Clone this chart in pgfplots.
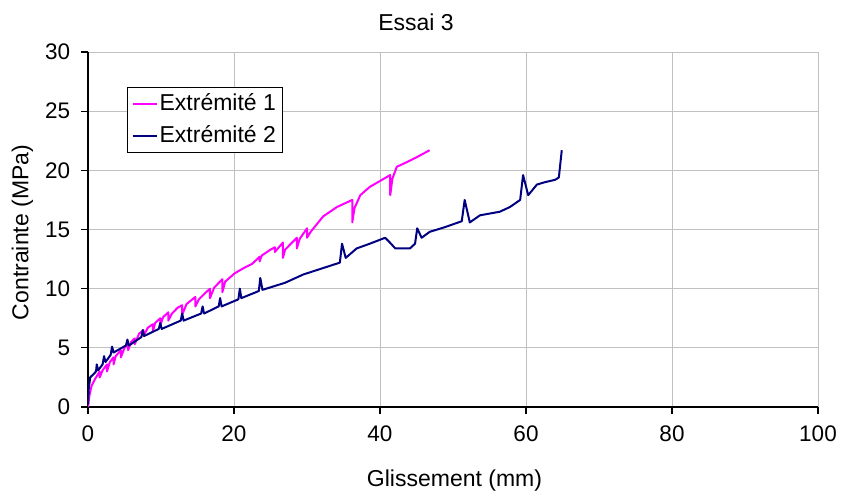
\documentclass[border=0pt]{standalone}
\usepackage{fontspec}
\setmainfont{Liberation Sans}
\usepackage{pgfplots}
\pgfplotsset{compat=1.18}
\definecolor{magentaL}{RGB}{255,0,255}
\definecolor{navyL}{RGB}{0,0,128}
\definecolor{gridc}{RGB}{192,192,192}
\begin{document}
\fontsize{23bp}{27bp}\selectfont
\begin{tikzpicture}
\begin{axis}[
  width=730bp, height=355bp, scale only axis,
  xmin=0, xmax=100, ymin=0, ymax=30,
  xtick={0,20,...,100}, ytick={0,5,...,30},
  axis lines*=left,
  tick align=outside,
  major tick length=7bp,
  grid=major,
  major grid style={gridc, line width=0.8bp},
  axis line style={black, line width=1.2bp},
  tick style={black, line width=1.2bp},
  /pgf/number format/assume math mode=true,
  ticklabel style={font=\fontsize{22.5bp}{26bp}\selectfont},
  xticklabel style={yshift=-4bp},
  yticklabel style={xshift=-3bp},
  legend style={at={(0.0534,0.9014)}, anchor=north west, draw=black, line width=0.9bp,
     font=\fontsize{23bp}{27bp}\selectfont, inner xsep=4bp, inner ysep=4bp, row sep=8bp,
     nodes={inner sep=2bp},
     /tikz/every even column/.append style={column sep=6bp}},
  legend cell align=left,
  legend image code/.code={\draw[#1, line width=2.2bp] (0bp,0bp) -- (24bp,0bp);},
  every axis plot/.append style={line width=2bp, line join=round},
]
\addplot[magentaL, no markers] coordinates {
(0,0)(0.2,1.0)(0.5,1.8)(1.0,2.4)(1.6,3.0)(1.6,2.5)
(2.0,3.1)(2.6,3.6)(2.6,3.0)
(3.0,3.8)(3.5,4.2)(3.5,3.6)
(3.8,4.3)(4.5,4.8)(4.5,4.2)
(5.0,5.0)(5.5,5.3)(5.5,4.8)
(5.9,5.5)(6.4,5.8)(6.4,5.3)
(7.0,6.2)(7.6,6.5)(7.6,6.0)
(8.2,6.7)(8.9,7.0)(8.9,6.4)
(9.2,7.1)(9.9,7.5)(9.9,6.9)
(10.3,7.6)(11.0,8.0)(11.0,7.3)
(11.5,7.9)(12.3,8.4)(12.9,8.6)(12.9,7.8)
(13.5,8.7)(14.7,9.3)(14.7,8.5)
(15.2,9.1)(16.0,9.6)(16.7,10.0)(16.7,9.2)
(17.3,10.1)(18.4,10.8)(18.4,9.7)
(18.8,10.6)(20.1,11.3)(21.5,11.8)(22.5,12.1)(23.5,12.7)(23.5,12.3)(23.8,12.8)(25.0,13.3)(25.6,13.5)(25.6,13.1)(26.7,13.9)(26.7,12.6)
(27.0,13.3)(28.6,14.3)(28.6,13.4)(29.0,14.2)(30.0,15.1)(30.0,14.3)(30.5,14.8)
(32.2,16.1)(34.1,16.9)(36.2,17.5)(36.2,15.6)(36.5,16.8)(37.3,17.9)(38.6,18.6)
(40.0,19.1)(41.4,19.6)(41.4,17.9)(41.7,19.3)(42.3,20.3)(43.7,20.7)(45.0,21.1)(46.8,21.7)
};
\addlegendentry{Extrémité 1}
\addplot[navyL, no markers] coordinates {
(0,0.2)(0.1,1.5)(0.3,2.5)(0.8,2.8)(1.1,3.0)(1.2,3.6)(1.4,3.1)(2.0,3.6)(2.2,4.3)(2.4,3.8)
(3.1,4.4)(3.3,5.1)(3.5,4.6)(5.2,5.2)(5.4,5.7)(5.6,5.2)(7.3,5.9)(7.5,6.5)(7.7,6.0)
(9.7,6.6)(9.9,7.1)(10.1,6.6)(12.7,7.3)(12.9,7.9)(13.1,7.3)(15.5,7.9)(15.7,8.5)(15.9,7.9)
(17.9,8.5)(18.1,9.2)(18.3,8.5)(20.6,9.1)(20.8,10.0)(21.0,9.2)(23.4,9.8)(23.6,10.9)(23.9,9.9)
(27.0,10.5)(29.5,11.2)(32.0,11.7)(34.5,12.2)(34.8,13.8)(35.3,12.6)(36.8,13.4)(38.6,13.8)
(40.7,14.3)(41.2,14.0)(42.1,13.4)(44.1,13.4)(44.8,13.8)(45.1,15.1)(45.7,14.3)(46.8,14.8)
(48.9,15.2)(51.2,15.7)(51.6,17.5)(52.3,15.6)(53.7,16.2)(56.4,16.5)(57.8,16.9)(59.2,17.5)
(59.6,19.6)(60.3,17.9)(61.5,18.8)(62.6,19.0)(64.0,19.2)(64.5,19.4)(64.9,21.7)
};
\addlegendentry{Extrémité 2}
\end{axis}
\node[xshift=328bp, yshift=385bp] at (current axis.south west) {Essai 3};
\node[xshift=366.5bp, yshift=-74bp] at (current axis.south west) {Glissement (mm)};
\node[xshift=-65.5bp, yshift=174.5bp, rotate=90] at (current axis.south west) {Contrainte (MPa)};
\pgfresetboundingbox
\path[use as bounding box] (current axis.south west) ++(-88bp,-90bp) rectangle ++(842bp,497bp);
\end{tikzpicture}
\end{document}
